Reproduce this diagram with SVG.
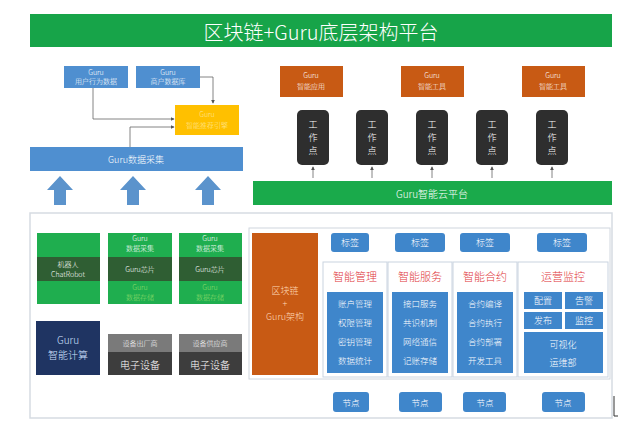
<svg xmlns="http://www.w3.org/2000/svg" width="640" height="429" viewBox="0 0 640 429">
<defs>
<style>
text{font-family:"Noto Sans CJK SC","Liberation Sans",sans-serif;text-anchor:middle;dominant-baseline:central;font-weight:300}
.w{fill:#fff}
.sm{font-size:7px}
.it{font-size:8.5px}
.md{font-size:9px}
.blue{fill:#4f8fd0}
.lab{fill:#3f86cb}
.org{fill:#c85a14}
.blk{fill:#2e2e2e}
.grn{fill:#1fae4f}
.dg{fill:#2f5e33}
.ln{fill:none;stroke:#666;stroke-width:0.8}
.col{fill:#fff;stroke:#c9d3e0;stroke-width:1}
.red{fill:#e0353a;font-size:11px}
.big{fill:#5b93cc}
</style>
<marker id="ah" viewBox="0 0 6 6" refX="5" refY="3" markerWidth="5" markerHeight="5" orient="auto"><path d="M0,0L6,3L0,6z" fill="#555"/></marker>
</defs>
<rect width="640" height="429" fill="#fff"/>

<g id="title">
<rect x="30" y="14" width="582" height="33" fill="#17a449"/>
<text x="321" y="31" class="w" font-size="20">区块链+Guru底层架构平台</text>
</g>

<g id="connectors">
<path class="ln" d="M93,88V119H174" marker-end="url(#ah)"/>
<path class="ln" d="M200,77H213V103" marker-end="url(#ah)"/>
<path class="ln" d="M130,147V127H174" marker-end="url(#ah)"/>
<path class="ln" d="M313,178V167" marker-end="url(#ah)"/>
<path class="ln" d="M372,178V167" marker-end="url(#ah)"/>
<path class="ln" d="M432,178V167" marker-end="url(#ah)"/>
<path class="ln" d="M492,178V167" marker-end="url(#ah)"/>
<path class="ln" d="M552,178V167" marker-end="url(#ah)"/>
<path class="ln" d="M355,252V261" marker-end="url(#ah)"/>
<path class="ln" d="M420,252V261" marker-end="url(#ah)"/>
<path class="ln" d="M485,252V261" marker-end="url(#ah)"/>
<path class="ln" d="M563,252V261" marker-end="url(#ah)"/>
<path class="ln" d="M355,392V380" marker-end="url(#ah)"/>
<path class="ln" d="M420,392V380" marker-end="url(#ah)"/>
<path class="ln" d="M485,392V380" marker-end="url(#ah)"/>
<path class="ln" d="M563,392V380" marker-end="url(#ah)"/>
<path class="big" d="M54,205V190H47L60,176L73,190H66V205Z"/>
<path class="big" d="M127,205V190H120L133,176L146,190H139V205Z"/>
<path class="big" d="M202,205V190H195L208,176L221,190H214V205Z"/>
<path class="big" d="M137,329V318H133L140,309L147,318H143V329Z"/>
<path class="big" d="M208,329V318H204L211,309L218,318H214V329Z"/>
</g>

<g id="data1"><rect x="64" y="66" width="64" height="22" class="blue"/><text x="96" y="72" class="w sm">Guru</text><text x="96" y="81" class="w sm">用户行为数据</text></g>
<g id="data2"><rect x="136" y="66" width="64" height="22" class="blue"/><text x="168" y="72" class="w sm">Guru</text><text x="168" y="81" class="w sm">商户数据库</text></g>
<g id="yellow"><rect x="175" y="105" width="64" height="30" fill="#ffc000"/><text x="207" y="114" fill="#ffe79a" class="sm">Guru</text><text x="207" y="125" fill="#ffe79a" class="sm">智能推荐引擎</text></g>
<g id="collect"><rect x="30" y="147" width="213" height="24" class="blue"/><text x="136" y="159" class="w md">Guru数据采集</text></g>

<g id="app1"><rect x="280" y="66" width="63" height="31" class="org"/><text x="311" y="75" class="w sm">Guru</text><text x="311" y="86" class="w sm">智能应用</text></g>
<g id="app2"><rect x="401" y="66" width="63" height="31" class="org"/><text x="432" y="75" class="w sm">Guru</text><text x="432" y="86" class="w sm">智能工具</text></g>
<g id="app3"><rect x="522" y="66" width="63" height="31" class="org"/><text x="553" y="75" class="w sm">Guru</text><text x="553" y="86" class="w sm">智能工具</text></g>

<g id="wp1"><rect x="297" y="110" width="32" height="55" rx="5" class="blk"/><text x="313" y="124" class="w md">工</text><text x="313" y="137" class="w md">作</text><text x="313" y="150" class="w md">点</text></g>
<g id="wp2"><rect x="356" y="110" width="32" height="55" rx="5" class="blk"/><text x="372" y="124" class="w md">工</text><text x="372" y="137" class="w md">作</text><text x="372" y="150" class="w md">点</text></g>
<g id="wp3"><rect x="416" y="110" width="32" height="55" rx="5" class="blk"/><text x="432" y="124" class="w md">工</text><text x="432" y="137" class="w md">作</text><text x="432" y="150" class="w md">点</text></g>
<g id="wp4"><rect x="476" y="110" width="32" height="55" rx="5" class="blk"/><text x="492" y="124" class="w md">工</text><text x="492" y="137" class="w md">作</text><text x="492" y="150" class="w md">点</text></g>
<g id="wp5"><rect x="536" y="110" width="32" height="55" rx="5" class="blk"/><text x="552" y="124" class="w md">工</text><text x="552" y="137" class="w md">作</text><text x="552" y="150" class="w md">点</text></g>

<g id="cloud"><rect x="253" y="181" width="359" height="24" fill="#1aaa4b"/><text x="432" y="193" class="w" font-size="10">Guru智能云平台</text></g>

<g id="frame">
<rect x="30" y="213" width="582" height="205" fill="#fff" stroke="#d6dbe2" stroke-width="1.5"/>
<rect x="249" y="228" width="361" height="151" fill="none" stroke="#d0d6de" stroke-width="1"/>
<path d="M614,396V416H618" fill="none" stroke="#333" stroke-width="1"/>
</g>

<g id="robot"><rect x="37" y="233" width="63" height="71" class="grn"/><rect x="37" y="257" width="63" height="24" class="dg"/><text x="68" y="264" class="w sm">机器人</text><text x="68" y="274" class="w sm">ChatRobot</text></g>
<g id="chip1"><rect x="108" y="233" width="64" height="71" class="grn"/><text x="140" y="238" class="w sm">Guru</text><text x="140" y="248" class="w sm">数据采集</text><rect x="108" y="257" width="64" height="24" class="dg"/><text x="140" y="269" class="w sm">Guru芯片</text><text x="140" y="287" fill="#8fdc6a" class="sm">Guru</text><text x="140" y="297" fill="#8fdc6a" class="sm">数据存储</text></g>
<g id="chip2"><rect x="179" y="233" width="63" height="71" class="grn"/><text x="210" y="238" class="w sm">Guru</text><text x="210" y="248" class="w sm">数据采集</text><rect x="179" y="257" width="63" height="24" class="dg"/><text x="210" y="269" class="w sm">Guru芯片</text><text x="210" y="287" fill="#8fdc6a" class="sm">Guru</text><text x="210" y="297" fill="#8fdc6a" class="sm">数据存储</text></g>
<g id="compute"><rect x="36" y="321" width="64" height="54" fill="#1f3462"/><text x="68" y="339" fill="#cfe0ff" font-size="10">Guru</text><text x="68" y="354" fill="#cfe0ff" font-size="10">智能计算</text></g>
<g id="dev1"><rect x="108" y="334" width="64" height="18" fill="#7a7a7a"/><rect x="108" y="352" width="64" height="23" fill="#3d3d3d"/><text x="140" y="343" class="w sm">设备出厂商</text><text x="140" y="364" class="w" font-size="10">电子设备</text></g>
<g id="dev2"><rect x="179" y="334" width="63" height="18" fill="#7a7a7a"/><rect x="179" y="352" width="63" height="23" fill="#3d3d3d"/><text x="210" y="343" class="w sm">设备供应商</text><text x="210" y="364" class="w" font-size="10">电子设备</text></g>

<g id="chain"><rect x="252" y="233" width="66" height="142" class="org"/><text x="285" y="290" fill="#ffd9b8" font-size="9">区块链</text><text x="285" y="303" fill="#ffd9b8" font-size="9">+</text><text x="285" y="316" fill="#ffd9b8" font-size="9">Guru架构</text></g>

<g id="tag1"><rect x="331" y="233" width="38" height="19" rx="3" class="lab"/><text x="350" y="242" class="w md">标签</text></g>
<g id="tag2"><rect x="395" y="233" width="50" height="19" rx="3" class="lab"/><text x="420" y="242" class="w md">标签</text></g>
<g id="tag3"><rect x="460" y="233" width="50" height="19" rx="3" class="lab"/><text x="485" y="242" class="w md">标签</text></g>
<g id="tag4"><rect x="537" y="233" width="50" height="19" rx="3" class="lab"/><text x="562" y="242" class="w md">标签</text></g>

<g id="mgmt"><rect x="323" y="262" width="64" height="115" class="col"/><text x="355" y="276" class="red">智能管理</text><rect x="327" y="292" width="56" height="81" class="lab"/><text x="355" y="303" class="w it">账户管理</text><text x="355" y="322" class="w it">权限管理</text><text x="355" y="341" class="w it">密钥管理</text><text x="355" y="360" class="w it">数据统计</text></g>
<g id="serv"><rect x="388" y="262" width="64" height="115" class="col"/><text x="420" y="276" class="red">智能服务</text><rect x="392" y="292" width="56" height="81" class="lab"/><text x="420" y="303" class="w it">接口服务</text><text x="420" y="322" class="w it">共识机制</text><text x="420" y="341" class="w it">网络通信</text><text x="420" y="360" class="w it">记账存储</text></g>
<g id="contract"><rect x="453" y="262" width="64" height="115" class="col"/><text x="485" y="276" class="red">智能合约</text><rect x="457" y="292" width="56" height="81" class="lab"/><text x="485" y="303" class="w it">合约编译</text><text x="485" y="322" class="w it">合约执行</text><text x="485" y="341" class="w it">合约部署</text><text x="485" y="360" class="w it">开发工具</text></g>
<g id="ops"><rect x="518" y="262" width="90" height="115" class="col"/><text x="563" y="276" class="red">运营监控</text>
<rect x="524" y="292" width="38" height="17" class="lab"/><text x="543" y="300" class="w md">配置</text>
<rect x="565" y="292" width="38" height="17" class="lab"/><text x="584" y="300" class="w md">告警</text>
<rect x="524" y="312" width="38" height="17" class="lab"/><text x="543" y="320" class="w md">发布</text>
<rect x="565" y="312" width="38" height="17" class="lab"/><text x="584" y="320" class="w md">监控</text>
<rect x="524" y="332" width="79" height="41" class="lab"/><text x="563" y="344" class="w md">可视化</text><text x="563" y="362" class="w md">运维部</text></g>

<g id="node1"><rect x="333" y="392" width="36" height="20" rx="3" class="lab"/><text x="351" y="402" class="w it">节点</text></g>
<g id="node2"><rect x="399" y="392" width="43" height="20" rx="3" class="lab"/><text x="420" y="402" class="w it">节点</text></g>
<g id="node3"><rect x="463" y="392" width="43" height="20" rx="3" class="lab"/><text x="485" y="402" class="w it">节点</text></g>
<g id="node4"><rect x="542" y="392" width="43" height="20" rx="3" class="lab"/><text x="563" y="402" class="w it">节点</text></g>
</svg>
